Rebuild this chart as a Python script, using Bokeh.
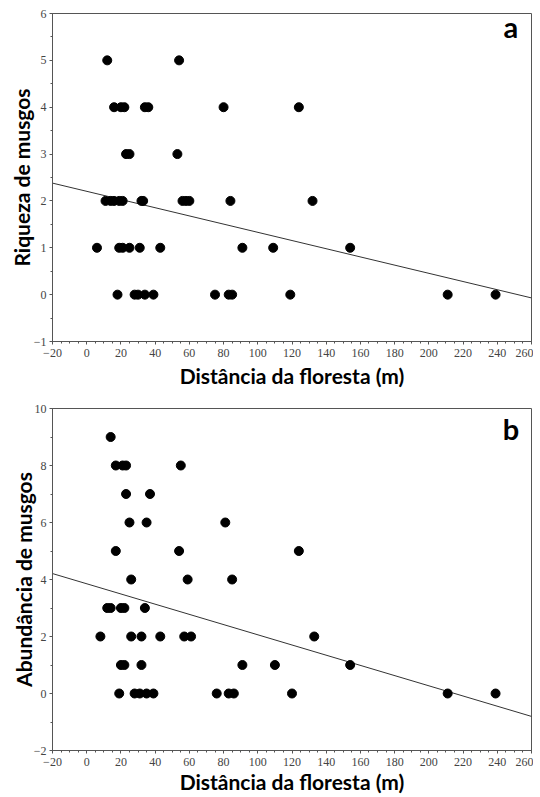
import numpy as np
from bokeh.plotting import figure
from bokeh.layouts import column
from bokeh.models import Label, FixedTicker
from bokeh.embed import file_html
from bokeh.resources import INLINE

# ---- Data ----
# Panel a: richness of mosses vs distance from forest
dist_a = [12, 54,
          16, 20, 22, 34, 36, 80, 124,
          23, 25, 53,
          11, 14, 16, 19, 21, 32, 33, 56, 58, 60, 84, 132,
          6, 19, 21, 25, 31, 43, 91, 109, 154,
          18, 28, 30, 34, 39, 75, 83, 85, 119, 211, 239]
rich_a = [5, 5,
          4, 4, 4, 4, 4, 4, 4,
          3, 3, 3,
          2, 2, 2, 2, 2, 2, 2, 2, 2, 2, 2, 2,
          1, 1, 1, 1, 1, 1, 1, 1, 1,
          0, 0, 0, 0, 0, 0, 0, 0, 0, 0, 0]

# Panel b: abundance of mosses vs distance from forest
dist_b = [14,
          17, 21, 23, 55,
          23, 37,
          25, 35, 81,
          17, 54, 124,
          26, 59, 85,
          12, 14, 20, 22, 34,
          8, 26, 32, 43, 57, 61, 133,
          20, 22, 32, 91, 110, 154,
          19, 28, 31, 35, 39, 76, 83, 86, 120, 211, 239]
abund_b = [9,
           8, 8, 8, 8,
           7, 7,
           6, 6, 6,
           5, 5, 5,
           4, 4, 4,
           3, 3, 3, 3, 3,
           2, 2, 2, 2, 2, 2, 2,
           1, 1, 1, 1, 1, 1,
           0, 0, 0, 0, 0, 0, 0, 0, 0, 0, 0]

# regression lines as drawn in the reference (intercept, slope)
fit_a = (2.205, -0.00875)
fit_b = (3.85, -0.0179)
fit_x = [-20, 260]

x_ticks = list(range(-20, 261, 20))
y_ticks_a = list(range(-1, 7))
y_ticks_b = list(range(-2, 11, 2))

x_label = "Distância da floresta (m)"
y_label_a = "Riqueza de musgos"
y_label_b = "Abundância de musgos"

TICK_FONT = "Liberation Sans Narrow"
LABEL_FONT = "Lato"


def make_panel(xs, ys, fit, yr, yticks, ylabel, letter, letter_xy,
               height, bt, bb, bl, ylab_off, xlab_off):
    p = figure(width=533, height=height, x_range=(-20, 260), y_range=yr,
               output_backend="svg", toolbar_location=None,
               min_border_top=bt, min_border_bottom=bb, min_border_left=bl,
               min_border_right=2)
    p.grid.visible = False
    p.outline_line_color = "#555555"
    p.outline_line_width = 1
    p.background_fill_color = "white"
    p.border_fill_color = "white"

    p.xaxis.ticker = FixedTicker(ticks=x_ticks,
                                 minor_ticks=list(np.arange(-20, 261, 5)))
    step = yticks[1] - yticks[0]
    p.yaxis.ticker = FixedTicker(ticks=yticks,
                                 minor_ticks=list(np.arange(yticks[0], yticks[-1] + 0.01, step / 2)))
    for ax in (p.xaxis[0], p.yaxis[0]):
        ax.axis_line_color = "#555555"
        ax.major_tick_line_color = "#555555"
        ax.minor_tick_line_color = "#555555"
        ax.major_tick_in = 0
        ax.major_tick_out = 3
        ax.minor_tick_in = 0
        ax.minor_tick_out = 2
        ax.major_label_text_font = TICK_FONT
        ax.major_label_text_font_size = "12px"
        ax.major_label_text_color = "#444444"
        ax.axis_label_text_font = LABEL_FONT
        ax.axis_label_text_font_style = "bold"
        ax.axis_label_text_font_size = "21px"
        ax.axis_label_text_color = "black"
    p.xaxis.axis_label = x_label
    p.yaxis.axis_label = ylabel
    p.xaxis.major_label_standoff = 4
    p.xaxis.axis_label_standoff = xlab_off
    p.yaxis.major_label_standoff = 3
    p.yaxis.axis_label_standoff = ylab_off

    b0, b1 = fit
    fy = [b0 + b1 * v for v in fit_x]
    p.line(fit_x, fy, line_color="#333333", line_width=1)

    p.scatter(xs, ys, size=9, marker="circle", fill_color="black", line_color="black")

    p.add_layout(Label(x=letter_xy[0], y=letter_xy[1], text=letter, text_font=LABEL_FONT,
                       text_font_style="bold", text_font_size="29px",
                       text_align="center", text_baseline="middle",
                       text_color="black"))
    return p


pa = make_panel(dist_a, rich_a, fit_a, (-1, 6), y_ticks_a, y_label_a, "a", (248, 5.72),
                391, 13, 50, 52, -3, 3)
pb = make_panel(dist_b, abund_b, fit_b, (-2, 10), y_ticks_b, y_label_b, "b", (248, 9.3),
                406, 17, 47, 42, -5, 0)

layout = column(pa, pb, spacing=0)
open("out.html", "w").write(file_html(layout, INLINE))
